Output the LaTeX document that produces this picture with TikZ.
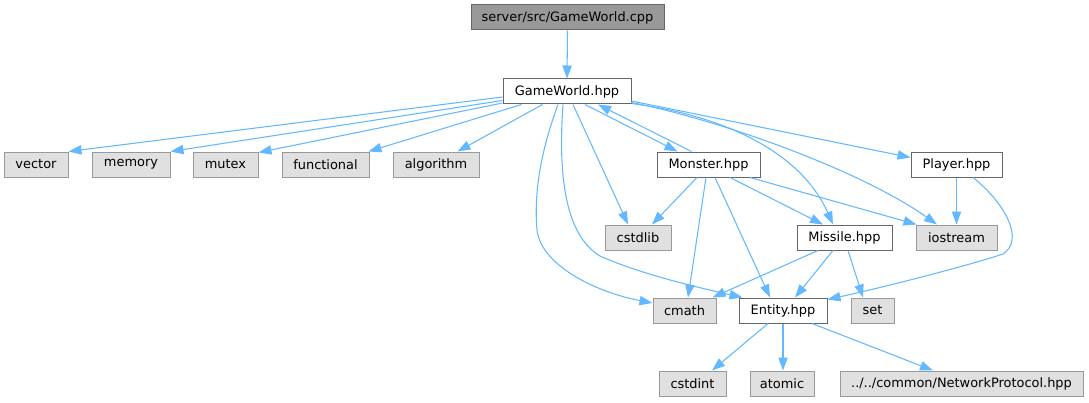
\documentclass[tikz,border=0pt]{standalone}
\usepackage{fontspec}
\setmainfont{DejaVu Sans}
\usetikzlibrary{arrows.meta,calc}
\definecolor{edgec}{HTML}{63B8FF}
\definecolor{extfill}{HTML}{E0E0E0}
\definecolor{extdraw}{HTML}{999999}
\definecolor{intdraw}{HTML}{666666}
\definecolor{mainfill}{HTML}{999999}
\begin{document}
\begin{tikzpicture}[x=0.75pt,y=-0.75pt,
  box/.style={draw, line width=0.75pt, minimum height=18.75pt, inner sep=0pt,
    font=\fontsize{9.7}{11}\selectfont, text=black},
  bw/.style={minimum width=#1*0.75pt},
  mainbox/.style={box, fill=mainfill, draw=intdraw},
  intbox/.style={box, fill=white, draw=intdraw},
  extbox/.style={box, fill=extfill, draw=extdraw},
  dep/.style={draw=edgec, line width=0.8pt, -{Triangle[length=9.75pt,width=7pt]}}
]
\useasboundingbox (0,0) rectangle (1089,403);

% nodes
\node[mainbox, bw=193] (cpp) at (567.5,17.5) {server/src/GameWorld.cpp};
\node[intbox, bw=128] (hpp) at (567,91.5) {GameWorld.hpp};
\node[extbox, bw=64] (vector) at (36,164.5) {vector};
\node[extbox, bw=78] (memory) at (131,164.5) {memory};
\node[extbox, bw=65] (mutex) at (225.5,164.5) {mutex};
\node[extbox, bw=87] (functional) at (325.5,164.5) {functional};
\node[extbox, bw=86] (algorithm) at (436,164.5) {algorithm};
\node[intbox, bw=103] (Monster) at (708.5,164.5) {Monster.hpp};
\node[intbox, bw=91] (Player) at (956.5,164.5) {Player.hpp};
\node[extbox, bw=66] (cstdlib) at (638,237.5) {cstdlib};
\node[intbox, bw=95] (Missile) at (844.5,237.5) {Missile.hpp};
\node[extbox, bw=81] (iostream) at (956.5,237.5) {iostream};
\node[extbox, bw=63] (cmath) at (684.5,310.5) {cmath};
\node[intbox, bw=88] (Entity) at (783,310.5) {Entity.hpp};
\node[extbox, bw=43] (set) at (872.5,310.5) {set};
\node[extbox, bw=67] (cstdint) at (692.5,383.5) {cstdint};
\node[extbox, bw=64] (atomic) at (782,383.5) {atomic};
\node[extbox, bw=243] (net) at (961.5,383.5) {../../common/NetworkProtocol.hpp};

% edges
\draw[dep] (cpp.south) -- (hpp.north);
\draw[dep] ($(hpp.west)+(0,5.5)$) -- (vector.north east);
\draw[dep] ($(hpp.west)+(0,9)$) -- (memory.north east);
\draw[dep] ($(hpp.west)+(0,11.5)$) -- ($(mutex.north east)+(0,1)$);
\draw[dep] ($(hpp.south west)+(19,0)$) -- ($(functional.north east)+(-1,0)$);
\draw[dep] ($(hpp.south west)+(40,0)$) -- ($(algorithm.north east)+(-22,0)$);
\draw[dep] ($(hpp.south)+(18,0)$) -- ($(Monster.north west)+(21,0)$);
\draw[dep] ($(Monster.north west)+(35,0)$) -- ($(hpp.south)+(31,0)$);
\draw[dep] ($(hpp.east)+(0,9.5)$) -- ($(Player.west)+(0,-7)$);
\draw[dep] ($(hpp.south)+(6,0)$) -- ($(cstdlib.north)+(-10,0)$);
\draw[dep] ($(hpp.south)+(-9,0)$) .. controls (545,140) and (533,185) .. (537,230)
   .. controls (541,265) and (595,292) .. ($(cmath.west)+(0,-7.5)$);
\draw[dep] ($(hpp.south)+(-4,0)$) .. controls (558,175) and (565,235) .. (600,256)
   .. controls (640,274) and (700,288) .. ($(Entity.north west)+(4,0)$);
\draw[dep] ($(hpp.east)+(0,12)$) .. controls (720,115) and (800,150) .. ($(Missile.north)+(-11.5,0)$);
\draw[dep] ($(hpp.east)+(0,11)$) .. controls (720,120) and (860,170) .. ($(iostream.north)+(-19.5,0)$);

\draw[dep] ($(Monster.south)+(-11.5,0)$) -- ($(cstdlib.north)+(14,0)$);
\draw[dep] ($(Monster.south)+(-2.5,0)$) -- ($(cmath.north)+(3.5,0)$);
\draw[dep] ($(Monster.south)+(6.5,0)$) -- ($(Entity.north)+(-13,0)$);
\draw[dep] ($(Monster.south)+(21.5,0)$) -- ($(Missile.north)+(-21.5,0)$);
\draw[dep] ($(Monster.south)+(41.5,0)$) -- ($(iostream.north west)+(1,0)$);

\draw[dep] (Player.south) -- (iostream.north);
\draw[dep] ($(Player.south)+(16.5,0)$) .. controls (1005,203) and (1025,240) .. (1003,254)
   .. controls (960,268) and (880,288) .. ($(Entity.north east)+(0,2)$);

\draw[dep] ($(Missile.south)+(-26.5,0)$) -- ($(cmath.north east)+(-4,0)$);
\draw[dep] ($(Missile.south)+(-11.5,0)$) -- ($(Entity.north)+(12,0)$);
\draw[dep] ($(Missile.south)+(3.5,0)$) -- ($(set.north)+(-9.5,0)$);

\draw[dep] ($(Entity.south)+(-15,0)$) -- ($(cstdint.north)+(19.5,0)$);
\draw[dep] (Entity.south) -- ($(atomic.north)+(1,0)$);
\draw[dep] ($(Entity.south)+(29,0)$) -- ($(net.north)+(-28.5,0)$);
\end{tikzpicture}
\end{document}
